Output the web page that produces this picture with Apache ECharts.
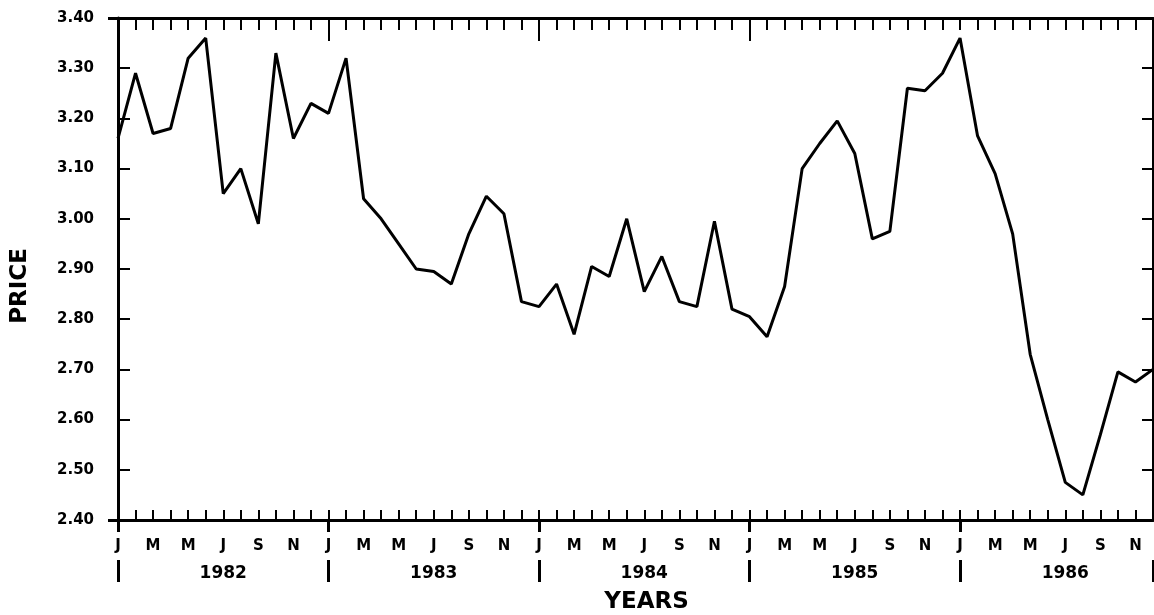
<!DOCTYPE html>
<html><head><meta charset="utf-8">
<script src="https://cdn.jsdelivr.net/npm/echarts@6/dist/echarts.min.js"></script>
<style>html,body{margin:0;padding:0;background:#fff}#c{width:1154px;height:615px}</style>
</head><body><div id="c"></div>
<script>
// ---- data ----
const years = ['1982', '1983', '1984', '1985', '1986'];
const monthLetters = ['J', 'F', 'M', 'A', 'M', 'J', 'J', 'A', 'S', 'O', 'N', 'D'];
const price1982 = [3.16, 3.29, 3.17, 3.18, 3.32, 3.36, 3.05, 3.10, 2.99, 3.33, 3.16, 3.23];
const price1983 = [3.21, 3.32, 3.04, 3.00, 2.95, 2.90, 2.895, 2.87, 2.97, 3.045, 3.01, 2.835];
const price1984 = [2.825, 2.87, 2.77, 2.905, 2.885, 3.00, 2.855, 2.925, 2.835, 2.825, 2.995, 2.82];
const price1985 = [2.805, 2.765, 2.865, 3.10, 3.15, 3.195, 3.13, 2.96, 2.975, 3.26, 3.255, 3.29];
const price1986 = [3.36, 3.165, 3.09, 2.97, 2.73, 2.60, 2.475, 2.45, 2.57, 2.695, 2.675, 2.70];
const yMin = 2.4, yMax = 3.4, yStep = 0.1;

// ---- build ----
const categories = [];
years.forEach(y => monthLetters.forEach((m, i) => categories.push(y + '-' + (i + 1))));
const price = [].concat(price1982, price1983, price1984, price1985, price1986);
const last = categories.length - 1;
const FONT = 'DejaVu Sans';
const black = '#000';

function xBase(extra) {
  return Object.assign({
    type: 'category', data: categories, boundaryGap: false, gridIndex: 0,
    splitLine: { show: false }
  }, extra);
}

const option = {
  animation: false,
  backgroundColor: '#fff',
  grid: { left: 118, right: 1, top: 18, bottom: 95, containLabel: false, outerBoundsMode: 'none' },
  xAxis: [
    xBase({
      position: 'bottom',
      axisLine: { show: true, onZero: false, lineStyle: { color: black, width: 3 } },
      axisTick: { show: true, inside: true, length: 10, interval: 0, lineStyle: { color: black, width: 2 } },
      axisLabel: {
        show: true, interval: 1, margin: 19,
        formatter: (v, idx) => monthLetters[idx % 12],
        color: black, fontFamily: FONT, fontWeight: 'bold', fontSize: 15
      }
    }),
    xBase({
      position: 'bottom',
      axisLine: { show: false, onZero: false },
      axisTick: { show: true, inside: false, length: 12, interval: i => i % 12 === 0, lineStyle: { color: black, width: 3 } },
      axisLabel: { show: false }
    }),
    xBase({
      position: 'bottom', offset: 40,
      axisLine: { show: false, onZero: false },
      axisTick: { show: true, inside: false, length: 22, interval: i => i % 12 === 0 || i === last, lineStyle: { color: black, width: 3 } },
      axisLabel: {
        show: true, interval: i => i % 12 === 6, margin: 5,
        formatter: (v, idx) => years[Math.floor(idx / 12)],
        color: black, fontFamily: FONT, fontWeight: 'bold', fontSize: 17
      },
      name: 'YEARS', nameLocation: 'middle', nameGap: 31,
      nameTextStyle: { color: black, fontFamily: FONT, fontWeight: 'bold', fontSize: 23, padding: [0, 0, 0, 22] }
    }),
    xBase({
      position: 'top',
      axisLine: { show: true, onZero: false, lineStyle: { color: black, width: 3 } },
      axisTick: { show: true, inside: true, length: 12, interval: 0, lineStyle: { color: black, width: 2 } },
      axisLabel: { show: false }
    }),
    xBase({
      position: 'top',
      axisLine: { show: false, onZero: false },
      axisTick: { show: true, inside: true, length: 23, interval: i => i === 12 || i === 24 || i === 36, lineStyle: { color: black, width: 2 } },
      axisLabel: { show: false }
    })
  ],
  yAxis: [
    {
      type: 'value', position: 'left', min: yMin, max: yMax, interval: yStep,
      axisLine: { show: true, onZero: false, lineStyle: { color: black, width: 3 } },
      axisTick: { show: true, inside: true, length: 12, lineStyle: { color: black, width: 2 } },
      axisLabel: {
        show: true, margin: 24, formatter: v => v.toFixed(2),
        color: black, fontFamily: FONT, fontWeight: 'bold', fontSize: 15
      },
      splitLine: { show: false },
      name: 'PRICE', nameLocation: 'middle', nameGap: 86, nameRotate: 90,
      nameTextStyle: { color: black, fontFamily: FONT, fontWeight: 'bold', fontSize: 23, padding: [0, 34, 0, 0] }
    },
    {
      type: 'value', position: 'left', min: yMin, max: yMax, interval: yMax - yMin,
      axisLine: { show: false, onZero: false },
      axisTick: { show: true, inside: false, length: 10, lineStyle: { color: black, width: 3 } },
      axisLabel: { show: false }, splitLine: { show: false }
    },
    {
      type: 'value', position: 'right', min: yMin, max: yMax, interval: yStep,
      axisLine: { show: true, onZero: false, lineStyle: { color: black, width: 2 } },
      axisTick: { show: true, inside: true, length: 11, lineStyle: { color: black, width: 2 } },
      axisLabel: { show: false }, splitLine: { show: false }
    }
  ],
  series: [{
    type: 'line', xAxisIndex: 0, yAxisIndex: 0, data: price,
    showSymbol: false, symbol: 'none',
    lineStyle: { color: black, width: 3 }, clip: false
  }]
};

const chart = echarts.init(document.getElementById('c'), null, { renderer: 'canvas' });
chart.setOption(option);
</script>
</body></html>
